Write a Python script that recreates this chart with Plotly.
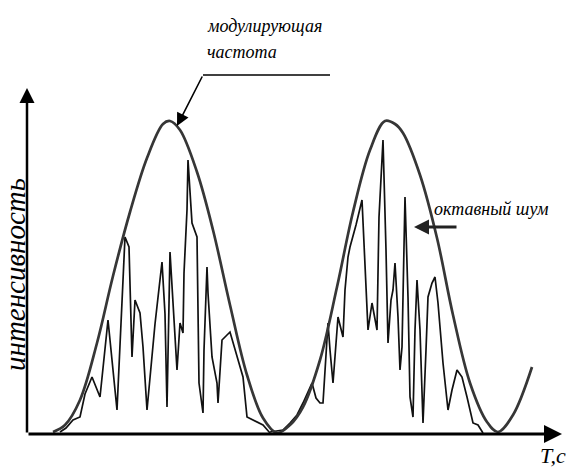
import plotly.graph_objects as go

# Modulating frequency envelope (time, intensity)
env_t = [26, 38, 53, 70, 86, 103, 120, 136, 143, 153, 170, 186, 203, 220, 236, 250,
         263, 276, 293, 310, 326, 343, 358, 368, 376, 393, 410, 426, 443, 460, 471, 486, 505]
env_i = [2, 9, 34, 91, 158, 222, 276, 310, 313, 304, 262, 204, 129, 59, 16, 1,
         9, 27, 74, 147, 222, 284, 313, 310, 301, 259, 196, 119, 51, 12, 2, 19, 67]

# Octave noise, first burst
n1_t = [33, 39, 46, 53, 58, 65, 73, 81, 90, 98, 102, 105, 108, 113, 116, 120, 128, 135,
        138, 140, 143, 150, 153, 156, 157, 160, 161, 165, 170, 172, 176, 177, 180, 181,
        185, 190, 191, 195, 203, 210, 216, 220, 226, 236, 243]
n1_i = [2, 6, 14, 17, 40, 57, 37, 114, 24, 197, 187, 77, 134, 121, 87, 24, 110, 172,
        120, 27, 182, 64, 111, 101, 161, 224, 274, 211, 197, 51, 21, 84, 167, 141,
        77, 51, 31, 94, 102, 77, 57, 17, 14, 9, 1]

# Octave noise, second burst
n2_t = [243, 256, 263, 270, 276, 285, 289, 293, 296, 301, 303, 306, 311, 314, 316, 318,
        321, 323, 329, 335, 341, 345, 347, 350, 352, 356, 359, 361, 364, 366, 368, 371,
        373, 375, 378, 380, 381, 383, 386, 388, 390, 393, 396, 399, 401, 405, 408, 411,
        416, 421, 425, 430, 435, 440, 446, 451, 456]
n2_i = [2, 4, 11, 19, 31, 51, 36, 31, 31, 111, 84, 51, 117, 104, 97, 144,
        177, 187, 209, 234, 104, 131, 119, 104, 217, 294, 184, 91, 134, 144, 171, 117,
        64, 87, 237, 174, 137, 37, 17, 104, 154, 104, 11, 84, 137, 151, 157, 131,
        71, 24, 44, 64, 57, 37, 11, 9, 1]

FONT = "Liberation Serif"

fig = go.Figure()
fig.add_trace(go.Scatter(x=n1_t, y=n1_i, mode="lines",
                         line=dict(color="#111111", width=1.7), hoverinfo="skip"))
fig.add_trace(go.Scatter(x=n2_t, y=n2_i, mode="lines",
                         line=dict(color="#111111", width=1.7), hoverinfo="skip"))
fig.add_trace(go.Scatter(x=env_t, y=env_i, mode="lines",
                         line=dict(color="#363636", width=2.7, shape="spline", smoothing=1.0),
                         hoverinfo="skip"))

annotations = [
    # x axis arrow
    dict(x=535, y=0, ax=0, ay=0, axref="x", ayref="y", xref="x", yref="y",
         showarrow=True, arrowhead=2, arrowsize=1.2, arrowwidth=3, arrowcolor="#000", text=""),
    # y axis arrow
    dict(x=0, y=346, ax=0, ay=0, axref="x", ayref="y", xref="x", yref="y",
         showarrow=True, arrowhead=2, arrowsize=1.2, arrowwidth=2.5, arrowcolor="#000", text=""),
    # pointer to envelope
    dict(x=150, y=308, ax=176, ay=359, axref="x", ayref="y", xref="x", yref="y",
         showarrow=True, arrowhead=2, arrowsize=1.6, arrowwidth=1.6, arrowcolor="#000", text=""),
    # pointer to noise
    dict(x=387, y=207, ax=431, ay=207, axref="x", ayref="y", xref="x", yref="y",
         showarrow=True, arrowhead=2, arrowsize=1.0, arrowwidth=3, arrowcolor="#222", text=""),
    dict(x=178, y=408, xref="x", yref="y", text="модулирующая", showarrow=False,
         xanchor="left", yanchor="middle",
         font=dict(family=FONT, size=18, style="italic", color="#000")),
    dict(x=178, y=382, xref="x", yref="y", text="частота", showarrow=False,
         xanchor="left", yanchor="middle",
         font=dict(family=FONT, size=18, style="italic", color="#000")),
    dict(x=-12, y=159, xref="x", yref="y", text="интенсивность", showarrow=False,
         textangle=-90, xanchor="center", yanchor="middle",
         font=dict(family=FONT, size=29, style="italic", color="#000")),
    dict(x=405, y=225, xref="x", yref="y", text="октавный шум", showarrow=False,
         xanchor="left", yanchor="middle",
         font=dict(family=FONT, size=18, style="italic", color="#000")),
    dict(x=526, y=-21, xref="x", yref="y", text="T,c", showarrow=False,
         xanchor="center", yanchor="middle",
         font=dict(family=FONT, size=22, style="italic", color="#000")),
]

shapes = [
    dict(type="line", xref="x", yref="y", x0=176, y0=359, x1=303, y1=359,
         line=dict(color="#000", width=1.6)),
]

fig.update_layout(
    width=566, height=473,
    margin=dict(l=0, r=0, t=0, b=0),
    paper_bgcolor="white", plot_bgcolor="white",
    showlegend=False,
    xaxis=dict(range=[-27, 539], visible=False, fixedrange=True),
    yaxis=dict(range=[-39, 434], visible=False, fixedrange=True),
    annotations=annotations,
    shapes=shapes,
)

fig.write_html(
    "out.html",
    config={"displayModeBar": False},
    post_script="document.body.style.margin='0';document.body.style.overflow='hidden';",
)
